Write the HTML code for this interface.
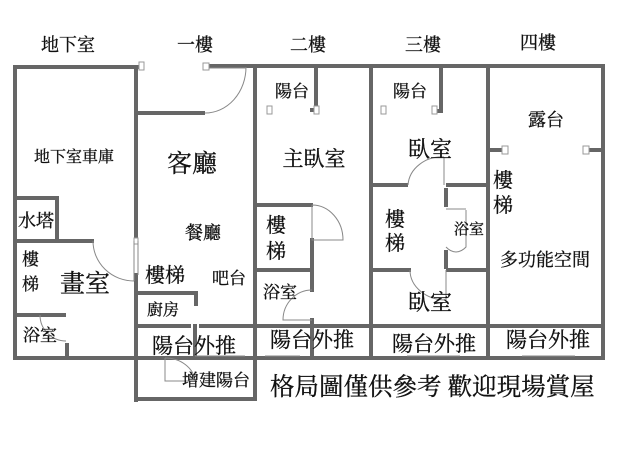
<!DOCTYPE html>
<html><head><meta charset="utf-8"><style>
html,body{margin:0;padding:0;background:#fff}
svg{display:block}
text{font-family:"Liberation Serif","Noto Serif CJK SC","Noto Sans CJK TC",serif;fill:#111;stroke:#111;stroke-width:0.3}
</style></head><body>
<svg width="640" height="461" viewBox="0 0 640 461" xmlns="http://www.w3.org/2000/svg">
<g stroke="#666" stroke-width="4" fill="none" stroke-linecap="square">
<polyline points="140,67 15,67 15,358 136,358"/>
<line x1="136" y1="67" x2="136" y2="238"/>
<line x1="136" y1="275" x2="136" y2="400"/>
<polyline points="15,198 57,198 57,240"/>
<line x1="15" y1="241" x2="92" y2="241"/>
<line x1="15" y1="315" x2="64" y2="315"/>
<line x1="67" y1="345" x2="67" y2="358"/>
<line x1="207" y1="66" x2="603" y2="66"/>
<line x1="136" y1="113" x2="203" y2="113"/>
<polyline points="136,293 196,293 196,304"/>
<line x1="136" y1="326" x2="189" y2="326"/>
<line x1="201" y1="326" x2="603" y2="326"/>
<line x1="136" y1="358" x2="603" y2="358"/>
<line x1="195" y1="326" x2="195" y2="358"/>
<polyline points="136,399 255,399 255,358"/>
<line x1="255" y1="66" x2="255" y2="358"/>
<polyline points="316,66 316,110 312,110"/>
<line x1="256" y1="205" x2="311" y2="205"/>
<line x1="256" y1="270" x2="312" y2="270"/>
<line x1="312" y1="240" x2="312" y2="290"/>
<line x1="312" y1="320" x2="312" y2="358"/>
<line x1="371" y1="66" x2="371" y2="358"/>
<polyline points="441,66 441,111 437,111"/>
<line x1="371" y1="185" x2="406" y2="185"/>
<line x1="448" y1="185" x2="488" y2="185"/>
<line x1="371" y1="270" x2="409" y2="270"/>
<line x1="448" y1="270" x2="488" y2="270"/>
<line x1="446" y1="190" x2="446" y2="205"/>
<line x1="446" y1="252" x2="446" y2="267"/>
<line x1="488" y1="66" x2="488" y2="358"/>
<line x1="488" y1="150" x2="500" y2="150"/>
<line x1="603" y1="66" x2="603" y2="358"/>
<line x1="590" y1="150" x2="603" y2="150"/>
</g>
<g stroke="#999" stroke-width="1" fill="#fff">
<rect x="139" y="62" width="5" height="8"/>
<rect x="203" y="63" width="6" height="7"/>
<rect x="267" y="106" width="5" height="8"/>
<rect x="314" y="106" width="5" height="8"/>
<rect x="381" y="106" width="5" height="8"/>
<rect x="432" y="106" width="5" height="8"/>
<rect x="502" y="146" width="6" height="8"/>
<rect x="583" y="146" width="6" height="8"/>
<rect x="134" y="238" width="4" height="6"/>
</g>
<g stroke="#888" stroke-width="1" fill="none">
<path d="M246,67 A41,46 0 0 1 205,113"/>
<line x1="209" y1="68" x2="246" y2="68"/>
<path d="M93,241 A41,40 0 0 0 134,281"/>
<line x1="134" y1="241" x2="134" y2="281"/>
<line x1="138" y1="241" x2="138" y2="275"/>
<path d="M40,315 A26,26 0 0 0 66,341"/>
<path d="M312,205 L312,240 L343,240 A31,35 0 0 0 312,205" />
<path d="M312,290 A29,30 0 0 0 283,320 L312,320"/>
<path d="M444,157 A34,30 0 0 0 408,185"/>
<line x1="444" y1="157" x2="444" y2="185"/>
<path d="M466,210 L466,247 A20,37 0 0 1 446,247"/>
<line x1="446" y1="209" x2="466" y2="209"/>
<path d="M410,270 A36,30 0 0 0 446,300"/>
<line x1="446" y1="270" x2="446" y2="300"/>
<path d="M165,358 L165,381 L195,381 A30,25 0 0 0 165,358"/>
<line x1="195" y1="356" x2="245" y2="356"/>
<line x1="265" y1="356" x2="300" y2="356"/>
<line x1="407" y1="356" x2="460" y2="356"/>
<line x1="522" y1="356" x2="575" y2="356"/>
</g>
<g font-size="17">
<text x="68" y="51" text-anchor="middle" font-size="18">地下室</text>
<text x="195" y="51" text-anchor="middle" font-size="18">一樓</text>
<text x="308" y="51" text-anchor="middle" font-size="18">二樓</text>
<text x="423" y="51" text-anchor="middle" font-size="18">三樓</text>
<text x="538" y="49" text-anchor="middle" font-size="18">四樓</text>
<text x="74" y="162" text-anchor="middle" font-size="16">地下室車庫</text>
<text x="18" y="227" font-size="18">水塔</text>
<text x="203" y="239" text-anchor="middle" font-size="18">餐廳</text>
<text x="229" y="284" text-anchor="middle">吧台</text>
<text x="147" y="315" font-size="16">廚房</text>
<text x="263" y="298">浴室</text>
<text x="23" y="341">浴室</text>
<text x="292" y="97" text-anchor="middle">陽台</text>
<text x="410" y="97" text-anchor="middle">陽台</text>
<text x="546" y="126" text-anchor="middle" font-size="18">露台</text>
<text x="545" y="266" text-anchor="middle" font-size="18">多功能空間</text>
<text x="182" y="386">增建陽台</text>
<text x="454" y="234" font-size="15">浴室</text>
</g>
<g font-size="20">
<text x="22" y="265" font-size="17">樓</text>
<text x="22" y="290" font-size="17">梯</text>
<text x="145" y="282">樓梯</text>
<text x="266" y="232">樓</text>
<text x="266" y="258">梯</text>
<text x="385" y="226">樓</text>
<text x="385" y="250">梯</text>
<text x="493" y="187">樓</text>
<text x="493" y="212">梯</text>
<text x="430" y="157" text-anchor="middle" font-size="22">臥室</text>
<text x="430" y="310" text-anchor="middle" font-size="22">臥室</text>
<text x="152" y="353" font-size="21">陽台外推</text>
<text x="270" y="347" font-size="21">陽台外推</text>
<text x="392" y="351" font-size="21">陽台外推</text>
<text x="506" y="347" font-size="21">陽台外推</text>
<text x="192" y="172" text-anchor="middle" font-size="25">客廳</text>
<text x="314" y="166" text-anchor="middle" font-size="21">主臥室</text>
<text x="85" y="292" text-anchor="middle" font-size="25">畫室</text>
<text x="270" y="395" font-size="24.5">格局圖僅供參考 歡迎現場賞屋</text>
</g>
</svg>
</body></html>
